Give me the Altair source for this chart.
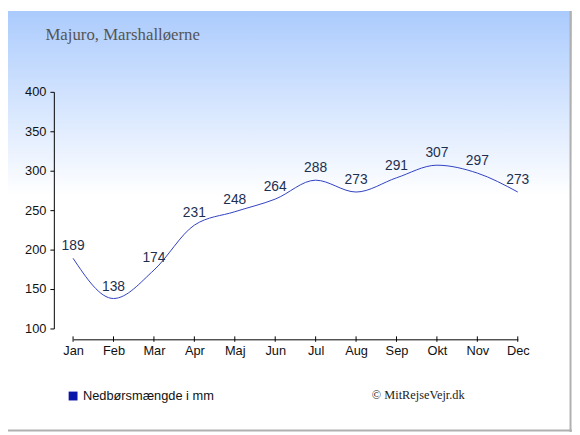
import altair as alt
import pandas as pd

months = ["Jan", "Feb", "Mar", "Apr", "Maj", "Jun", "Jul", "Aug", "Sep", "Okt", "Nov", "Dec"]
rain = [189, 138, 174, 231, 248, 264, 288, 273, 291, 307, 297, 273]
y_ticks = [100, 150, 200, 250, 300, 350, 400]
title_text = "Majuro, Marshalløerne"
legend_text = "Nedbørsmængde i mm"
credit_text = "© MitRejseVejr.dk"

df = pd.DataFrame({"month": months, "rain": rain})

W, H = 451, 240
PL, PT, PR, PB = 66, 82, 55, 105

x_enc = alt.X("month:N", sort=months, scale=alt.Scale(type="point", padding=0),
              axis=alt.Axis(title=None, labelAngle=0, offset=11, ticks=False, zindex=2,
                            labelPadding=5, domainColor="#000",
                            labelColor="#111", labelFontSize=13, labelFont="Liberation Sans",
                            labelOverlap=False))
y_enc = alt.Y("rain:Q", scale=alt.Scale(domain=[100, 400], nice=False, zero=False),
              axis=alt.Axis(title=None, values=y_ticks, tickCount=7, zindex=2,
                            offset=19.5, tickSize=4, labelPadding=4, grid=False,
                            domainColor="#000", tickColor="#000", labelColor="#111",
                            labelFontSize=13, labelFont="Liberation Sans",
                            labelOverlap=False, labelFlush=False))

bg = alt.Chart(alt.Data(values=[{}])).mark_rect(
    color={"gradient": "linear", "x1": 0, "y1": 0, "x2": 0, "y2": 1,
           "stops": [{"offset": 0, "color": "#abcbfd"},
                     {"offset": 0.44, "color": "#ffffff"},
                     {"offset": 1, "color": "#ffffff"}]}
).encode(x=alt.value(-PL), x2=alt.value(W + PR), y=alt.value(-PT), y2=alt.value(H + PB))

border_r = alt.Chart(alt.Data(values=[{}])).mark_rule(color="#b0b0b0", strokeWidth=2).encode(
    x=alt.value(W + PR - 1.5), y=alt.value(-PT), y2=alt.value(H + PB))
border_b = alt.Chart(alt.Data(values=[{}])).mark_rule(color="#b0b0b0", strokeWidth=2).encode(
    x=alt.value(-PL), x2=alt.value(W + PR), y=alt.value(H + PB - 1.5))

xticks = alt.Chart(df).mark_rule(color="#000", strokeWidth=1).encode(
    x=x_enc, y=alt.value(H + 8), y2=alt.value(H + 13.5))

line = alt.Chart(df).mark_line(interpolate="monotone", color="#2f3fc0", strokeWidth=1).encode(
    x=x_enc, y=y_enc)

labels = alt.Chart(df).mark_text(dy=-8, baseline="alphabetic", fontSize=14,
                                 font="Liberation Sans", color="#1d2f50").encode(
    x=x_enc, y=y_enc, text="rain:Q")

title = alt.Chart(alt.Data(values=[{"t": title_text}])).mark_text(
    align="left", baseline="alphabetic", font="Liberation Serif", fontSize=17, color="#555"
).encode(x=alt.value(-28), y=alt.value(-53), text="t:N")

sq = alt.Chart(alt.Data(values=[{}])).mark_rect(color="#0a16a8").encode(
    x=alt.value(69.5 - 74), x2=alt.value(78.5 - 74), y=alt.value(394 - 90), y2=alt.value(403 - 90))

legend = alt.Chart(alt.Data(values=[{"t": legend_text}])).mark_text(
    align="left", baseline="alphabetic", font="Liberation Sans", fontSize=13, color="#111"
).encode(x=alt.value(84 - 74), y=alt.value(403 - 90), text="t:N")

credit = alt.Chart(alt.Data(values=[{"t": credit_text}])).mark_text(
    align="left", baseline="alphabetic", font="Liberation Serif", fontSize=12.5, color="#222"
).encode(x=alt.value(377 - 74), y=alt.value(402 - 90), text="t:N")

chart = alt.layer(bg, border_r, border_b, line, labels, xticks, title, sq, legend, credit).properties(
    width=W, height=H,
    autosize=alt.AutoSizeParams(type="none"),
    padding={"left": PL, "top": PT, "right": PR, "bottom": PB},
    background="#ffffff",
).configure_view(stroke=None)

chart.save("out.html", embed_options={"renderer": "svg", "actions": False})
